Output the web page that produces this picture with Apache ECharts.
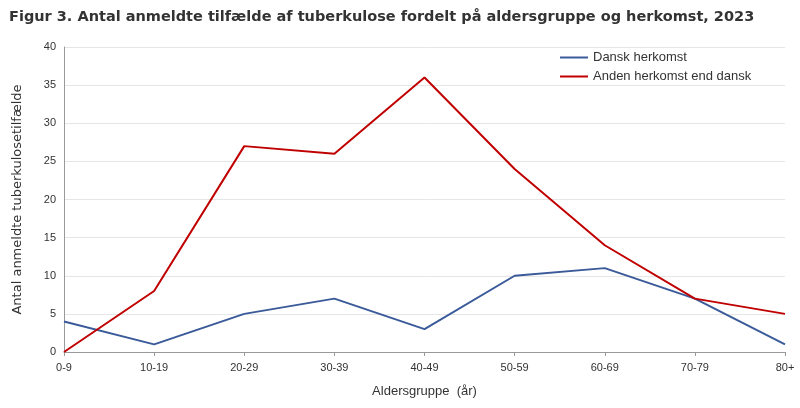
<!DOCTYPE html>
<html><head><meta charset="utf-8">
<script src="https://cdn.jsdelivr.net/npm/echarts@6/dist/echarts.min.js"></script>
<style>html,body{margin:0;padding:0;background:#fff}#c{width:800px;height:408px}</style>
</head><body><div id="c"></div>
<script>
const categories = ['0-9','10-19','20-29','30-39','40-49','50-59','60-69','70-79','80+'];
const dansk = [4,1,5,7,3,10,11,7,1];
const anden = [0,8,27,26,36,24,14,7,5];
const font = '"Liberation Sans", "DejaVu Sans", sans-serif';
const wide = '"DejaVu Sans", sans-serif';
const chart = echarts.init(document.getElementById('c'));
chart.setOption({
  animation:false,
  title:{text:'Figur 3. Antal anmeldte tilfælde af tuberkulose fordelt på aldersgruppe og herkomst, 2023',left:4,top:5,
    textStyle:{fontFamily:wide,fontSize:14.5,fontWeight:'bold',color:'#333'}},
  legend:{orient:'vertical',left:555,top:46,itemWidth:28,itemHeight:2,itemGap:6,icon:'rect',
    textStyle:{fontFamily:font,fontSize:13,color:'#333'},
    data:['Dansk herkomst','Anden herkomst end dansk']},
  grid:{left:64,right:15,top:47,bottom:56},
  xAxis:{type:'category',data:categories,boundaryGap:false,
    name:'Aldersgruppe  (år)',nameLocation:'middle',nameGap:33,
    nameTextStyle:{fontFamily:font,fontSize:13,color:'#333'},
    axisLine:{lineStyle:{color:'#999'}},axisTick:{show:true,length:4,lineStyle:{color:'#999'}},
    axisLabel:{fontFamily:font,fontSize:11,color:'#333',margin:10}},
  yAxis:{type:'value',min:0,max:40,interval:5,
    name:'Antal anmeldte tuberkulosetilfælde',nameLocation:'middle',nameGap:40,
    nameTextStyle:{fontFamily:wide,fontSize:13,color:'#333'},
    axisLine:{show:true,lineStyle:{color:'#999'}},axisTick:{show:false},
    axisLabel:{fontFamily:font,fontSize:11,color:'#333'},
    splitLine:{lineStyle:{color:'#e6e6e6'}}},
  series:[
    {name:'Dansk herkomst',type:'line',data:dansk,symbol:'none',lineStyle:{color:'#3a5a9a',width:2},itemStyle:{color:'#3a5a9a'}},
    {name:'Anden herkomst end dansk',type:'line',data:anden,symbol:'none',lineStyle:{color:'#c00000',width:2},itemStyle:{color:'#c00000'}}
  ]
});
</script></body></html>
